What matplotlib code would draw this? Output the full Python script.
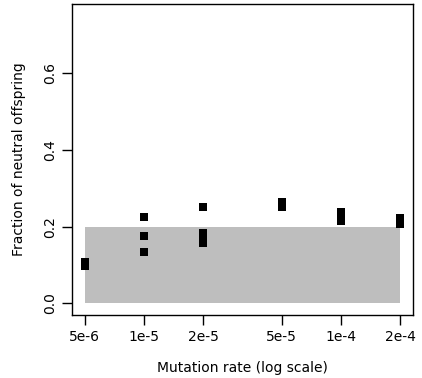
import matplotlib
matplotlib.use("Agg")
import matplotlib.pyplot as plt
import numpy as np

plt.rcParams['font.family'] = ['DejaVu Sans']

# Mutation rates tested and the fraction of neutral offspring per replicate
rates = [5e-6, 5e-6,
         1e-5, 1e-5, 1e-5,
         2e-5, 2e-5, 2e-5, 2e-5,
         5e-5, 5e-5,
         1e-4, 1e-4, 1e-4,
         2e-4, 2e-4]
fractions = [0.098, 0.107,
             0.224, 0.175, 0.133,
             0.252, 0.183, 0.170, 0.158,
             0.264, 0.252,
             0.239, 0.227, 0.215,
             0.223, 0.208]

tick_values = [5e-6, 1e-5, 2e-5, 5e-5, 1e-4, 2e-4]
tick_labels = ["5e-6", "1e-5", "2e-5", "5e-5", "1e-4", "2e-4"]
y_ticks = [0.0, 0.2, 0.4, 0.6]
y_tick_labels = ["0.0", "0.2", "0.4", "0.6"]

# Shaded reference band
band_x = [5e-6, 2e-4]
band_y = [0.0, 0.2]

fig = plt.figure(figsize=(4.22, 3.78), dpi=100)
ax = fig.add_axes([0.1706, 0.1667, 0.8081, 0.8227])

ax.fill_between(band_x, band_y[0], band_y[1], color="#BEBEBE", linewidth=0, zorder=1)
ax.plot(rates, fractions, linestyle="none", marker="s", markersize=5.2,
        markeredgewidth=0, color="black", zorder=3)

ax.set_xscale("log")
lo, hi = np.log10(5e-6), np.log10(2e-4)
pad = (hi - lo) * 0.04
ax.set_xlim(10 ** (lo - pad), 10 ** (hi + pad))
ax.set_ylim(-0.03, 0.78)

ax.set_xticks(tick_values)
ax.set_xticklabels(tick_labels)
ax.xaxis.set_minor_locator(matplotlib.ticker.NullLocator())
ax.set_yticks(y_ticks)
ax.set_yticklabels(y_tick_labels, rotation=90, va="center")

ax.tick_params(axis="both", direction="out", length=7, width=1, labelsize=10,
               pad=4)
for s in ax.spines.values():
    s.set_linewidth(1.0)

ax.set_xlabel("Mutation rate (log scale)", fontsize=10, labelpad=12)
ax.set_ylabel("Fraction of neutral offspring", fontsize=10, labelpad=12)

fig.savefig("out.png", dpi=100)
